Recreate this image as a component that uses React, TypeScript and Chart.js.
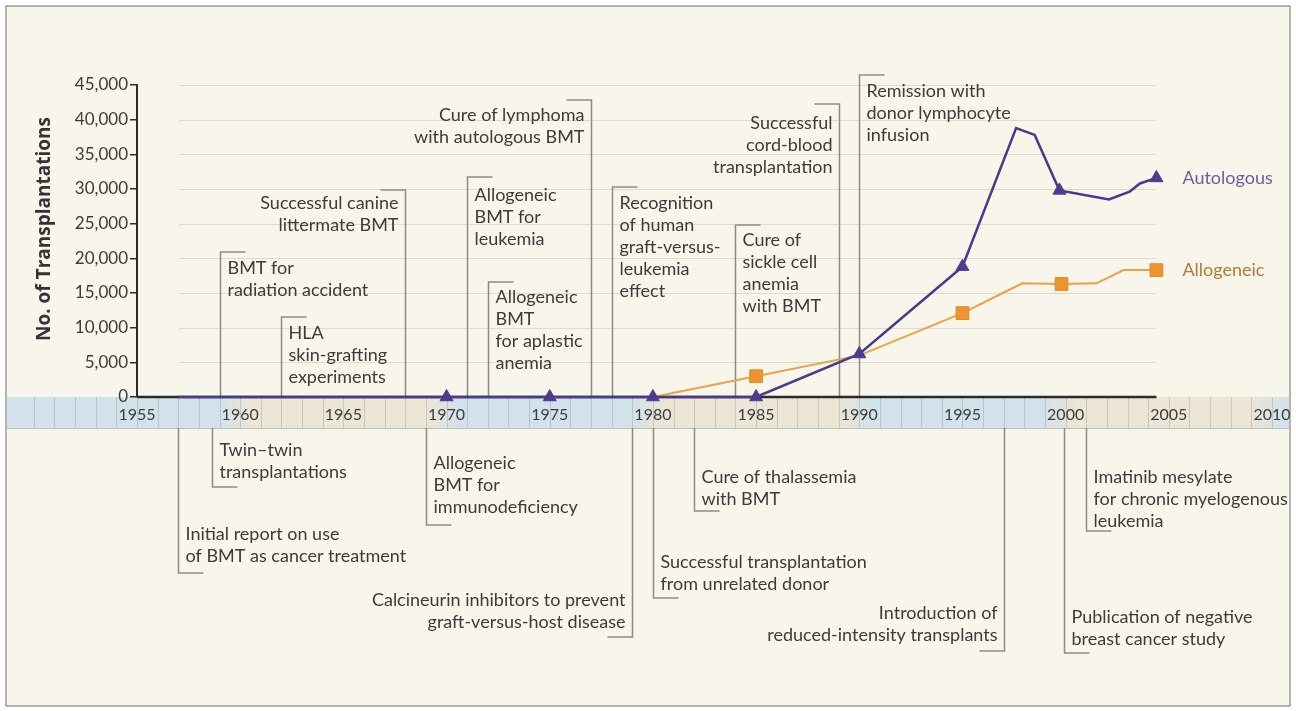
import React, { useEffect, useRef } from 'react';
import { Chart, registerables } from 'chart.js';

Chart.register(...registerables);

// ---------- data ----------
const seriesNames = ['Autologous', 'Allogeneic'];

const autoYears = [1957, 1970, 1975, 1980, 1985, 1990, 1995, 1997.6, 1998.5, 1999.7, 2002.1, 2003.1, 2003.6, 2004.4];
const autoValues = [0, 0, 0, 0, 0, 6200, 18800, 38800, 37800, 29800, 28500, 29600, 30800, 31600];
const autoMarkerYears = [1970, 1975, 1980, 1985, 1990, 1995, 1999.7, 2004.4];

const alloYears = [1980, 1985, 1990, 1995, 1997.9, 1999.8, 2001.5, 2002.8, 2004.4];
const alloValues = [0, 3000, 6000, 12100, 16400, 16300, 16400, 18300, 18300];
const alloMarkerYears = [1985, 1995, 1999.8, 2004.4];

const yTicks = [0, 5000, 10000, 15000, 20000, 25000, 30000, 35000, 40000, 45000];
const xTicks = [1955, 1960, 1965, 1970, 1975, 1980, 1985, 1990, 1995, 2000, 2005, 2010];
const yTitle = 'No. of Transplantations';

// events above the time band
const aboveYears = [1959, 1962, 1968, 1977, 1971, 1972, 1978, 1984, 1989, 1990];
const aboveTexts = [
  ['BMT for', 'radiation accident'],
  ['HLA', 'skin-grafting', 'experiments'],
  ['Successful canine', 'littermate BMT'],
  ['Cure of lymphoma', 'with autologous BMT'],
  ['Allogeneic', 'BMT for', 'leukemia'],
  ['Allogeneic', 'BMT', 'for aplastic', 'anemia'],
  ['Recognition', 'of human', 'graft-versus-', 'leukemia', 'effect'],
  ['Cure of', 'sickle cell', 'anemia', 'with BMT'],
  ['Successful', 'cord-blood', 'transplantation'],
  ['Remission with', 'donor lymphocyte', 'infusion'],
];
// events below the time band
const belowYears = [1957, 1958.65, 1969, 1979, 1980, 1982, 1997, 1999.9, 2001];
const belowTexts = [
  ['Initial report on use', 'of BMT as cancer treatment'],
  ['Twin\u2013twin', 'transplantations'],
  ['Allogeneic', 'BMT for', 'immunodeficiency'],
  ['Calcineurin inhibitors to prevent', 'graft-versus-host disease'],
  ['Successful transplantation', 'from unrelated donor'],
  ['Cure of thalassemia', 'with BMT'],
  ['Introduction of', 'reduced-intensity transplants'],
  ['Publication of negative', 'breast cancer study'],
  ['Imatinib mesylate', 'for chronic myelogenous', 'leukemia'],
];

// ---------- layout (pixels) ----------
const aboveLayout = [
  { top: 252, textY: 268, align: 'left' },
  { top: 317, textY: 333, align: 'left' },
  { top: 190, textY: 203, align: 'right' },
  { top: 100, textY: 115, align: 'right' },
  { top: 177, textY: 195, align: 'left' },
  { top: 282, textY: 297, align: 'left' },
  { top: 187, textY: 203, align: 'left' },
  { top: 225, textY: 240, align: 'left' },
  { top: 104, textY: 123, align: 'right' },
  { top: 75, textY: 91, align: 'left' },
];
const belowLayout = [
  { bottom: 573, textY: 534, align: 'left' },
  { bottom: 487, textY: 450, align: 'left' },
  { bottom: 525, textY: 463, align: 'left' },
  { bottom: 637, textY: 600, align: 'right' },
  { bottom: 598, textY: 562, align: 'left' },
  { bottom: 511, textY: 477, align: 'left' },
  { bottom: 651, textY: 613, align: 'right' },
  { bottom: 653, textY: 617, align: 'left' },
  { bottom: 531, textY: 477, align: 'left' },
];

const W = 1296;
const H = 711;
const FONT = 'Lato, "Open Sans", sans-serif';
const TEXT = '#3b3b3b';
const BG = '#f8f6ea';
const LEADER = '#8d8c84';
const LINE_H = 22;
const BAND_H = 31;
const PURPLE = '#47398b';
const ORANGE = '#e9a248';
const BLUE = '#d3e2ea';
const BEIGE = '#ede5d6';

const decorPlugin = {
  id: 'decor',
  beforeDraw(chart: any) {
    const { ctx, scales } = chart;
    const x = scales.x;
    const y = scales.y;
    ctx.save();
    ctx.fillStyle = '#ffffff';
    ctx.fillRect(0, 0, W, H);
    ctx.fillStyle = BG;
    ctx.fillRect(6, 6, 1284, 700);
    ctx.strokeStyle = '#9c9c9c';
    ctx.lineWidth = 1.5;
    ctx.strokeRect(6, 6, 1284, 700);

    // gridlines spanning the data range
    const gx0 = x.getPixelForValue(autoYears[0]);
    const gx1 = x.getPixelForValue(autoYears[autoYears.length - 1]);
    ctx.strokeStyle = '#dedbcf';
    ctx.lineWidth = 1;
    yTicks.forEach((v) => {
      if (v === 0) return;
      const py = Math.round(y.getPixelForValue(v)) + 0.5;
      ctx.beginPath();
      ctx.moveTo(gx0, py);
      ctx.lineTo(gx1, py);
      ctx.stroke();
    });

    // time band
    const bTop = y.getPixelForValue(0);
    const bx0 = 7;
    const bx1 = 1289;
    const grad = ctx.createLinearGradient(bx0, 0, bx1, 0);
    const f = (yr: number) => Math.min(1, Math.max(0, (x.getPixelForValue(yr) - bx0) / (bx1 - bx0)));
    const decades = [1960, 1970, 1980, 1990, 2000, 2010];
    grad.addColorStop(0, BLUE);
    decades.forEach((d, i) => {
      const from = i % 2 === 0 ? BLUE : BEIGE;
      const to = i % 2 === 0 ? BEIGE : BLUE;
      grad.addColorStop(f(d - 1), from);
      grad.addColorStop(f(d + 0.6), to);
    });
    grad.addColorStop(1, BLUE);
    ctx.fillStyle = grad;
    ctx.fillRect(bx0, bTop, bx1 - bx0, BAND_H);
    ctx.strokeStyle = 'rgba(120,120,120,0.28)';
    ctx.lineWidth = 1;
    for (let yr = 1950; yr <= 2015; yr++) {
      const px = Math.round(x.getPixelForValue(yr)) + 0.5;
      if (px < bx0 || px > bx1) continue;
      ctx.beginPath();
      ctx.moveTo(px, bTop);
      ctx.lineTo(px, bTop + BAND_H);
      ctx.stroke();
    }
    ctx.strokeStyle = 'rgba(120,120,120,0.45)';
    ctx.beginPath();
    ctx.moveTo(bx0, bTop + BAND_H + 0.5);
    ctx.lineTo(bx1, bTop + BAND_H + 0.5);
    ctx.stroke();

    // y title
    ctx.save();
    ctx.translate(45, 229);
    ctx.rotate(-Math.PI / 2);
    ctx.fillStyle = '#333';
    ctx.font = 'bold 19px "Open Sans", Lato, sans-serif';
    ctx.textAlign = 'center';
    ctx.textBaseline = 'middle';
    ctx.fillText(yTitle, 0, 0);
    ctx.restore();
    ctx.restore();
  },
  beforeDatasetsDraw(chart: any) {
    const { ctx, scales } = chart;
    const x = scales.x;
    const y = scales.y;
    const base = y.getPixelForValue(0);
    ctx.save();
    // annotations
    ctx.strokeStyle = LEADER;
    ctx.lineWidth = 1.5;
    ctx.fillStyle = TEXT;
    ctx.font = `18px ${FONT}`;
    ctx.textBaseline = 'middle';
    const drawNote = (px: number, yEnd: number, yStart: number, lines: string[], textY: number, align: string) => {
      const dir = align === 'right' ? -1 : 1;
      ctx.beginPath();
      ctx.moveTo(px, yStart);
      ctx.lineTo(px, yEnd);
      ctx.lineTo(px + dir * 25, yEnd);
      ctx.stroke();
      ctx.textAlign = align;
      lines.forEach((t, i) => ctx.fillText(t, px + dir * 7, textY + i * LINE_H));
    };
    aboveYears.forEach((yr, i) => {
      const L = aboveLayout[i];
      const px = Math.round(x.getPixelForValue(yr)) + 0.5;
      drawNote(px, L.top, base, aboveTexts[i], L.textY, L.align);
    });
    belowYears.forEach((yr, i) => {
      const L = belowLayout[i];
      const px = Math.round(x.getPixelForValue(yr)) + 0.5;
      drawNote(px, L.bottom, base + BAND_H, belowTexts[i], L.textY, L.align);
    });
    // baseline
    ctx.strokeStyle = '#2a2a2a';
    ctx.lineWidth = 2.5;
    ctx.beginPath();
    ctx.moveTo(x.left, base);
    ctx.lineTo(x.getPixelForValue(autoYears[autoYears.length - 1]), base);
    ctx.stroke();
    ctx.restore();
  },
  afterDatasetsDraw(chart: any) {
    const { ctx, scales } = chart;
    const x = scales.x;
    const y = scales.y;
    ctx.save();
    ctx.font = `18px ${FONT}`;
    ctx.textAlign = 'left';
    ctx.textBaseline = 'middle';
    const ends = [
      { yr: autoYears[autoYears.length - 1], v: autoValues[autoValues.length - 1], c: '#6b5da3' },
      { yr: alloYears[alloYears.length - 1], v: alloValues[alloValues.length - 1], c: '#b5773a' },
    ];
    ends.forEach((e, i) => {
      ctx.fillStyle = e.c;
      ctx.fillText(seriesNames[i], x.getPixelForValue(e.yr) + 26, y.getPixelForValue(e.v));
    });
    ctx.restore();
  },
};

export default function App() {
  const ref = useRef<HTMLCanvasElement | null>(null);
  useEffect(() => {
    if (!ref.current) return;
    const chart = new Chart(ref.current, {
      type: 'line',
      data: {
        datasets: [
          {
            label: seriesNames[0],
            data: autoYears.map((yr, i) => ({ x: yr, y: autoValues[i] })),
            borderColor: PURPLE,
            backgroundColor: PURPLE,
            borderWidth: 2.5,
            pointStyle: 'triangle',
            pointRadius: autoYears.map((yr) => (autoMarkerYears.includes(yr) ? 7.5 : 0)),
            pointBackgroundColor: '#4a3d8f',
            pointBorderColor: '#4a3d8f',
            pointBorderWidth: 1,
            tension: 0,
            clip: false,
          },
          {
            label: seriesNames[1],
            data: alloYears.map((yr, i) => ({ x: yr, y: alloValues[i] })),
            borderColor: ORANGE,
            backgroundColor: ORANGE,
            borderWidth: 2,
            pointStyle: 'rect',
            pointRadius: alloYears.map((yr) => (alloMarkerYears.includes(yr) ? 9 : 0)),
            pointBackgroundColor: '#ec9430',
            pointBorderColor: '#e08a28',
            pointBorderWidth: 1,
            tension: 0,
            clip: false,
          },
        ],
      },
      options: {
        responsive: false,
        animation: false,
        events: [],
        layout: { padding: { top: 85, right: 24, left: 0, bottom: 0 } },
        plugins: { legend: { display: false }, tooltip: { enabled: false } },
        scales: {
          x: {
            type: 'linear',
            min: xTicks[0],
            max: xTicks[xTicks.length - 1],
            grid: { display: false },
            border: { display: false },
            afterBuildTicks: (s: any) => {
              s.ticks = xTicks.map((v) => ({ value: v }));
            },
            afterFit: (s: any) => {
              s.height = H - 397;
            },
            ticks: {
              autoSkip: false,
              maxRotation: 0,
              padding: 0,
              color: TEXT,
              font: { family: FONT, size: 16 },
              callback: (v: any) => String(v),
            },
          },
          y: {
            type: 'linear',
            min: yTicks[0],
            max: yTicks[yTicks.length - 1],
            afterBuildTicks: (s: any) => {
              s.ticks = yTicks.map((v) => ({ value: v }));
            },
            afterFit: (s: any) => {
              s.width = 137;
            },
            border: { display: true, color: '#2e2e2e', width: 2 },
            grid: { drawOnChartArea: false, drawTicks: true, tickLength: 7, color: '#2e2e2e', lineWidth: 1.5 },
            ticks: {
              padding: 2,
              color: TEXT,
              font: { family: FONT, size: 17 },
              callback: (v: any) => Number(v).toLocaleString('en-US'),
            },
          },
        },
      },
      plugins: [decorPlugin],
    });
    return () => chart.destroy();
  }, []);
  return (
    <div style={{ position: 'fixed', left: 0, top: 0, width: W, height: H }}>
      <canvas ref={ref} width={W} height={H} style={{ display: 'block', width: W, height: H }} />
    </div>
  );
}
